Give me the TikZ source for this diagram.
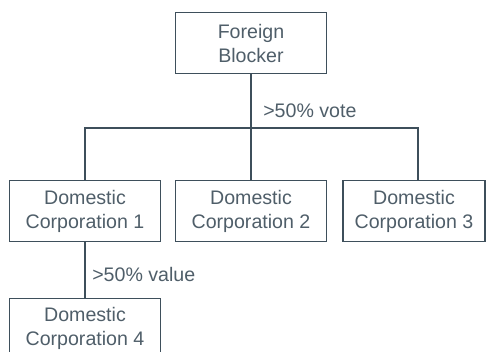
\documentclass[tikz,border=0pt]{standalone}
\usepackage{fontspec}
\setmainfont{Liberation Sans}
\definecolor{slate}{HTML}{3E4F5B}
\definecolor{slatetext}{HTML}{4F5E69}

\begin{document}
\begin{tikzpicture}[x=0.75pt,y=-0.75pt,
    corp/.style={draw=slate,line width=1pt,minimum width=113.25pt,minimum height=45.75pt,
      inner sep=0pt,align=center,text=slatetext,font=\fontsize{14.7}{18}\selectfont},
    link/.style={draw=slate,line width=1.3pt},
    share/.style={anchor=base west,inner sep=0pt,text=slatetext,font=\fontsize{14.7}{18}\selectfont}]
  \useasboundingbox (0,0) rectangle (486,351);

  \node[corp] (fb) at (251,43.3) {Foreign\\Blocker};
  \foreach \i/\x in {1/85,2/251} {
    \node[corp] (dc\i) at (\x,211.2) {Domestic\\Corporation \i};
  }
  \node[corp,minimum width=106.5pt] (dc3) at (414,211.2) {Domestic\\Corporation 3};
  \node[corp] (dc4) at (85,328.8) {Domestic\\Corporation 4};

  \coordinate (bus) at (251,127.7);
  \coordinate (bus3) at (418,127.7);
  \draw[link] (fb) -- (bus);
  \draw[link] (bus) -- (dc2);
  \draw[link] (dc1.north) |- (bus3) -- (bus3 |- dc3.north);
  \draw[link] (dc1) -- (dc4);

  \node[share] (vote) at (263,117) {>50\% vote};
  \node[share] (value) at (92,281) {>50\% value};
\end{tikzpicture}
\end{document}
